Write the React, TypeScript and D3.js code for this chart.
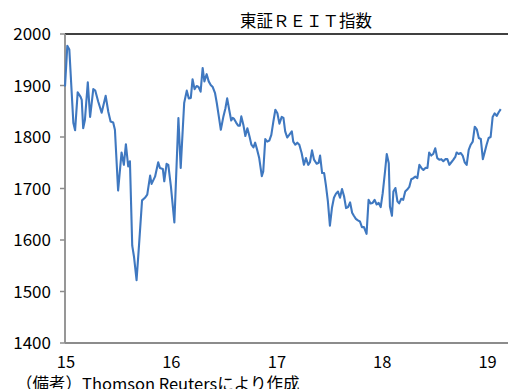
import React from "react";
import * as d3 from "d3";

const width = 508;
const height = 389;
const margin = { top: 34, right: 0, bottom: 46, left: 65 };

const title = "東証ＲＥＩＴ指数";
const note = "（備考）Thomson Reutersにより作成";

const yTicks = [1400, 1500, 1600, 1700, 1800, 1900, 2000];
const xTicks = ["2015-01-01", "2016-01-01", "2017-01-01", "2018-01-01", "2019-01-01"];
const xTickLabels = ["15", "16", "17", "18", "19"];

// weekly readings
const dates = [
  "2015-01-01", "2015-01-09", "2015-01-16", "2015-01-30", "2015-02-05", "2015-02-14",
  "2015-02-24", "2015-02-28", "2015-03-05", "2015-03-11", "2015-03-21", "2015-03-29",
  "2015-04-09", "2015-04-16", "2015-04-26", "2015-05-08", "2015-05-22", "2015-05-31",
  "2015-06-08", "2015-06-17", "2015-06-23", "2015-07-04", "2015-07-16", "2015-07-24",
  "2015-07-31", "2015-08-08", "2015-08-14", "2015-08-22", "2015-08-28", "2015-09-06",
  "2015-09-15", "2015-09-25", "2015-10-05", "2015-10-13", "2015-10-23", "2015-10-28",
  "2015-11-09", "2015-11-20", "2015-11-26", "2015-12-06", "2015-12-11", "2015-12-19",
  "2015-12-25", "2016-01-03", "2016-01-15", "2016-01-29", "2016-02-06", "2016-02-13",
  "2016-02-18", "2016-02-27", "2016-03-05", "2016-03-12", "2016-03-18", "2016-03-25",
  "2016-04-01", "2016-04-08", "2016-04-15", "2016-04-22", "2016-04-28", "2016-05-06",
  "2016-05-13", "2016-05-20", "2016-05-27", "2016-06-04", "2016-06-10", "2016-06-17",
  "2016-06-24", "2016-07-03", "2016-07-10", "2016-07-16", "2016-07-23", "2016-07-30",
  "2016-08-04", "2016-08-09", "2016-08-16", "2016-08-23", "2016-08-29", "2016-09-03",
  "2016-09-10", "2016-09-17", "2016-09-24", "2016-10-01", "2016-10-08", "2016-10-15",
  "2016-10-21", "2016-10-28", "2016-11-04", "2016-11-13", "2016-11-18", "2016-11-25",
  "2016-12-02", "2016-12-09", "2016-12-16", "2016-12-23", "2016-12-30", "2017-01-06",
  "2017-01-13", "2017-01-21", "2017-01-27", "2017-02-02", "2017-02-09", "2017-02-16",
  "2017-02-25", "2017-03-02", "2017-03-09", "2017-03-16", "2017-03-23", "2017-03-31",
  "2017-04-08", "2017-04-15", "2017-04-23", "2017-04-29", "2017-05-06", "2017-05-13",
  "2017-05-22", "2017-05-29", "2017-06-03", "2017-06-10", "2017-06-17", "2017-06-23",
  "2017-06-30", "2017-07-07", "2017-07-14", "2017-07-21", "2017-07-28", "2017-08-04",
  "2017-08-11", "2017-08-18", "2017-08-25", "2017-09-01", "2017-09-08", "2017-09-15",
  "2017-09-22", "2017-09-28", "2017-10-05", "2017-10-12", "2017-10-19", "2017-10-26",
  "2017-11-02", "2017-11-11", "2017-11-18", "2017-11-25", "2017-12-02", "2017-12-09",
  "2017-12-16", "2017-12-23", "2017-12-30", "2018-01-06", "2018-01-14", "2018-01-20",
  "2018-01-27", "2018-01-31", "2018-02-07", "2018-02-12", "2018-02-19", "2018-02-26",
  "2018-03-04", "2018-03-11", "2018-03-18", "2018-03-25", "2018-04-01", "2018-04-08",
  "2018-04-15", "2018-04-22", "2018-04-29", "2018-05-06", "2018-05-13", "2018-05-20",
  "2018-05-27", "2018-06-03", "2018-06-10", "2018-06-16", "2018-06-23", "2018-06-30",
  "2018-07-07", "2018-07-14", "2018-07-21", "2018-07-28", "2018-08-04", "2018-08-11",
  "2018-08-18", "2018-08-25", "2018-09-01", "2018-09-08", "2018-09-15", "2018-09-19",
  "2018-09-26", "2018-10-03", "2018-10-10", "2018-10-17", "2018-10-24", "2018-10-31",
  "2018-11-07", "2018-11-14", "2018-11-21", "2018-11-28", "2018-12-05", "2018-12-12",
  "2018-12-19", "2018-12-26", "2019-01-01", "2019-01-08", "2019-01-15", "2019-01-22",
  "2019-01-29", "2019-02-05", "2019-02-12", "2019-02-19",
];

const reit = [
  1898, 1977, 1970, 1827, 1813, 1887,
  1878, 1872, 1817, 1833, 1906, 1839,
  1893, 1890, 1869, 1847, 1880, 1849,
  1830, 1828, 1814, 1696, 1770, 1746,
  1786, 1743, 1753, 1589, 1568, 1522,
  1594, 1677, 1682, 1688, 1725, 1709,
  1723, 1751, 1740, 1738, 1714, 1748,
  1746, 1704, 1634, 1837, 1740, 1814,
  1866, 1890, 1875, 1876, 1912, 1893,
  1899, 1897, 1888, 1934, 1908, 1922,
  1908, 1901, 1897, 1885, 1866, 1840,
  1814, 1840, 1856, 1875, 1853, 1832,
  1837, 1835, 1828, 1822, 1822, 1840,
  1824, 1802, 1817, 1802, 1785, 1780,
  1789, 1775, 1759, 1724, 1733, 1796,
  1791, 1793, 1804, 1830, 1853, 1846,
  1826, 1839, 1837, 1811, 1799, 1804,
  1811, 1791, 1785, 1789, 1785, 1769,
  1746, 1759, 1746, 1751, 1774, 1756,
  1748, 1750, 1764, 1730, 1730, 1707,
  1675, 1628, 1662, 1682, 1690, 1694,
  1682, 1699, 1685, 1662, 1664, 1673,
  1653, 1647, 1641, 1638, 1636, 1625,
  1625, 1612, 1678, 1671, 1672, 1678,
  1669, 1672, 1664, 1691, 1733, 1767,
  1749, 1665, 1647, 1694, 1701, 1675,
  1671, 1680, 1678, 1694, 1698, 1703,
  1718, 1720, 1723, 1720, 1746, 1740,
  1736, 1740, 1740, 1770, 1764, 1767,
  1778, 1759, 1756, 1757, 1753, 1757,
  1757, 1746, 1751, 1756, 1762, 1770,
  1767, 1769, 1764, 1751, 1746, 1775,
  1785, 1791, 1820, 1815, 1798, 1796,
  1757, 1772, 1785, 1798, 1800, 1839,
  1846, 1841, 1848, 1854,
];

const font = "'Noto Sans CJK JP', 'Noto Sans', sans-serif";

const App = () => {
  const parse = d3.timeParse("%Y-%m-%d");
  const data = dates.map((d, i) => ({ date: parse(d) as Date, value: reit[i] }));

  const x0 = parse("2015-01-01") as Date;
  const x1 = parse("2019-01-01") as Date;
  const xScale = d3
    .scaleTime()
    .domain([x0, x1])
    .range([margin.left, margin.left + 4 * 105.4]);
  const yScale = d3
    .scaleLinear()
    .domain([1400, 2000])
    .range([height - margin.bottom, margin.top]);

  const line = d3
    .line<{ date: Date; value: number }>()
    .x((d) => xScale(d.date))
    .y((d) => yScale(d.value));

  const plotRight = width;
  const bottomY = yScale(1400);

  return (
    <svg
      width={width}
      height={height}
      style={{ position: "absolute", left: 0, top: 0, background: "#fff" }}
      fontFamily={font}
    >
      <text x={306} y={27} fontSize={16.5} textAnchor="middle" fill="#000">
        {title}
      </text>
      <line x1={margin.left} x2={plotRight} y1={yScale(2000)} y2={yScale(2000)} stroke="#000" strokeWidth={1.3} />
      {yTicks.map((t) => (
        <g key={t}>
          <line x1={margin.left - 5} x2={margin.left} y1={yScale(t)} y2={yScale(t)} stroke="#8c8c8c" strokeWidth={1.5} />
          <text x={51} y={yScale(t) + 6} fontSize={17} textAnchor="end" fill="#000">
            {t}
          </text>
        </g>
      ))}
      <line x1={margin.left} x2={margin.left} y1={yScale(2000)} y2={bottomY} stroke="#8c8c8c" strokeWidth={1.8} />
      <line x1={margin.left} x2={plotRight} y1={bottomY} y2={bottomY} stroke="#8c8c8c" strokeWidth={1.8} />
      {xTicks.map((t, i) => (
        <text key={t} x={xScale(parse(t) as Date) + 1} y={367.5} fontSize={16.5} textAnchor="middle" fill="#000">
          {xTickLabels[i]}
        </text>
      ))}
      <path d={line(data) ?? ""} fill="none" stroke="#3f78c0" strokeWidth={2.1} strokeLinejoin="round" />
      <text x={16} y={390} fontSize={16.5} fill="#000">
        {note}
      </text>
    </svg>
  );
};

export default App;
